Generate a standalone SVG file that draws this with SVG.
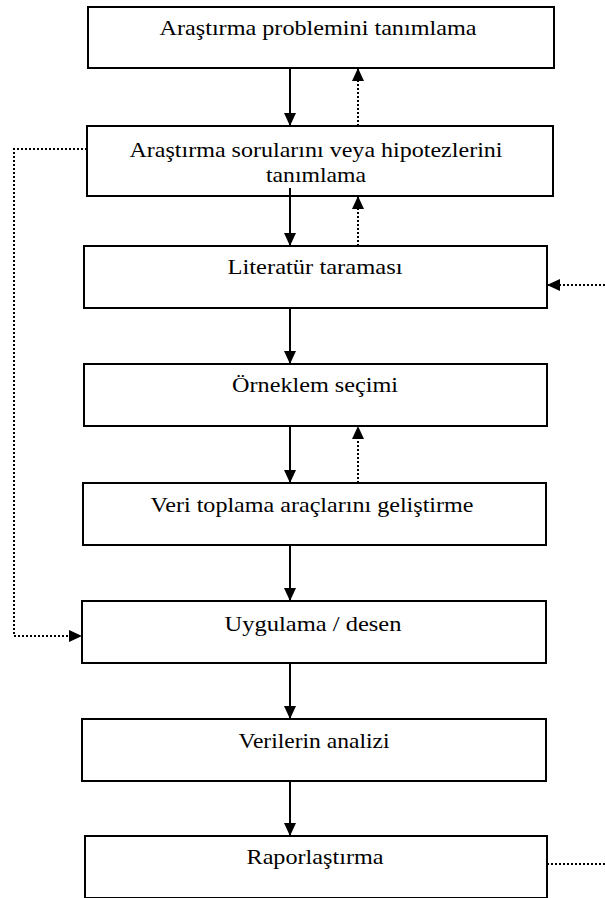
<svg xmlns="http://www.w3.org/2000/svg" width="605" height="898" viewBox="0 0 605 898">
<defs>
<marker id="ah" viewBox="0 0 12 12" refX="12" refY="6" markerWidth="13" markerHeight="12" markerUnits="userSpaceOnUse" orient="auto" preserveAspectRatio="none">
<path d="M0,0 L12,6 L0,12 z" fill="#000"/>
</marker>
<style>
.box{fill:#fff;stroke:#000;stroke-width:2}
.t{font-family:"Liberation Serif","Times New Roman",serif;font-size:21.5px;fill:#000;text-anchor:middle}
.solid{stroke:#000;stroke-width:2;fill:none}
.dot{stroke:#000;stroke-width:2;fill:none;stroke-dasharray:2 2}
</style>
</defs>
<rect width="605" height="898" fill="#fff"/>
<g id="n1"><rect class="box" x="88" y="7" width="466" height="61"/><text class="t" x="318" y="35" textLength="317" lengthAdjust="spacingAndGlyphs">Araştırma problemini tanımlama</text></g>
<g id="n2"><rect class="box" x="87" y="126" width="466" height="70"/><text class="t" x="316" y="157" textLength="373" lengthAdjust="spacingAndGlyphs">Araştırma sorularını veya hipotezlerini</text><text class="t" x="316" y="182" textLength="100" lengthAdjust="spacingAndGlyphs">tanımlama</text></g>
<g id="n3"><rect class="box" x="84" y="246" width="463" height="62"/><text class="t" x="315" y="274" textLength="175" lengthAdjust="spacingAndGlyphs">Literatür taraması</text></g>
<g id="n4"><rect class="box" x="84" y="364" width="463" height="62"/><text class="t" x="315" y="392" textLength="166" lengthAdjust="spacingAndGlyphs">Örneklem seçimi</text></g>
<g id="n5"><rect class="box" x="83" y="483" width="463" height="62"/><text class="t" x="312" y="512" textLength="323" lengthAdjust="spacingAndGlyphs">Veri toplama araçlarını geliştirme</text></g>
<g id="n6"><rect class="box" x="82" y="601" width="464" height="62"/><text class="t" x="313" y="631" textLength="177" lengthAdjust="spacingAndGlyphs">Uygulama / desen</text></g>
<g id="n7"><rect class="box" x="82" y="719" width="464" height="62"/><text class="t" x="314" y="748" textLength="151" lengthAdjust="spacingAndGlyphs">Verilerin analizi</text></g>
<g id="n8"><rect class="box" x="85" y="836" width="462" height="62"/><text class="t" x="315" y="864" textLength="137" lengthAdjust="spacingAndGlyphs">Raporlaştırma</text></g>
<g id="connectors">
<line class="solid" x1="290" y1="68" x2="290" y2="126" marker-end="url(#ah)"/>
<line class="dot" x1="358" y1="126" x2="358" y2="68" marker-end="url(#ah)"/>
<line class="solid" x1="290" y1="188" x2="290" y2="246" marker-end="url(#ah)"/>
<line class="dot" x1="358" y1="246" x2="358" y2="196" marker-end="url(#ah)"/>
<line class="solid" x1="290" y1="308" x2="290" y2="364" marker-end="url(#ah)"/>
<line class="solid" x1="290" y1="426" x2="290" y2="483" marker-end="url(#ah)"/>
<line class="dot" x1="358" y1="483" x2="358" y2="426" marker-end="url(#ah)"/>
<line class="solid" x1="290" y1="545" x2="290" y2="601" marker-end="url(#ah)"/>
<line class="solid" x1="290" y1="663" x2="290" y2="719" marker-end="url(#ah)"/>
<line class="solid" x1="290" y1="781" x2="290" y2="836" marker-end="url(#ah)"/>
<polyline class="dot" points="87,149 14,149 14,636 82,636" marker-end="url(#ah)"/>
<line class="dot" x1="605" y1="285" x2="547" y2="285" marker-end="url(#ah)"/>
<line class="dot" x1="547" y1="864" x2="605" y2="864"/>
</g>
</svg>
